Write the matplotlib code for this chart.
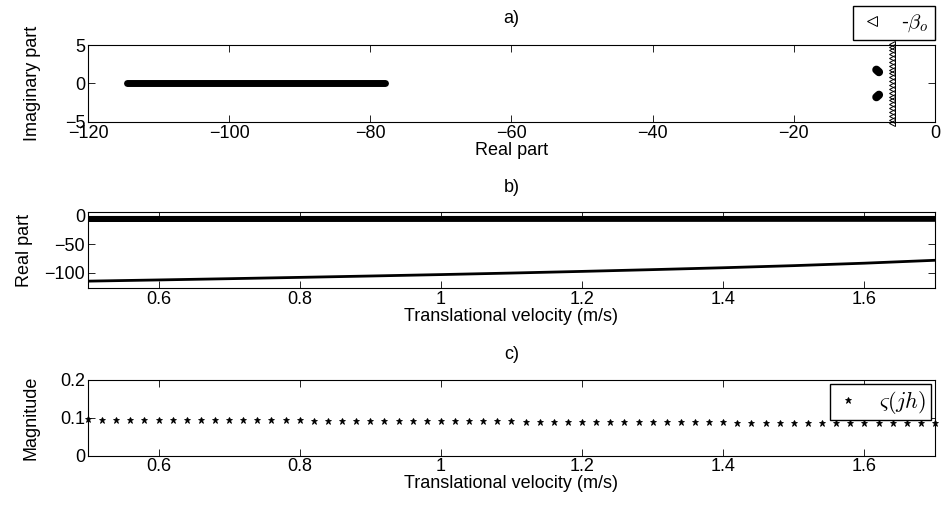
import matplotlib
matplotlib.use('Agg')
import matplotlib.pyplot as plt
import numpy as np

plt.rcParams['font.family'] = ['Liberation Sans', 'DejaVu Sans']
plt.rcParams['font.size'] = 13
plt.rcParams['mathtext.fontset'] = 'cm'

# velocity grid (m/s) for the root loci
vel = [0.5, 0.6, 0.7, 0.8, 0.9, 1.0, 1.1, 1.2, 1.3, 1.4, 1.5, 1.6, 1.7]
real_pole = [-114.5, -112.4, -110.2, -107.9, -105.5, -103.0, -100.3,
             -97.4, -94.3, -91.0, -87.3, -83.0, -77.9]
cplx_re = [-8.3, -8.27, -8.24, -8.21, -8.18, -8.15, -8.12, -8.09, -8.06,
           -8.03, -8.0, -7.97, -7.94]
cplx_im = [1.78, 1.76, 1.73, 1.71, 1.68, 1.66, 1.63, 1.61, 1.58, 1.56,
           1.53, 1.51, 1.48]
beta_o = [-6.1] * 13
other_re = [-0.3] * 13
beta_im = [-5.2, -4.7, -4.2, -3.7, -3.2, -2.7, -2.2, -1.7, -1.2, -0.7,
           -0.2, 0.3, 0.8, 1.3, 1.8, 2.3, 2.8, 3.3, 3.8, 4.3, 4.8, 5.2]

# magnitude of varsigma(jh), sampled every 0.02 m/s
vel_c = np.round(np.arange(50, 171, 2) / 100.0, 2)
mag = [0.0955, 0.0953, 0.0952, 0.0950, 0.0948, 0.0946, 0.0945, 0.0943,
       0.0941, 0.0939, 0.0938, 0.0936, 0.0934, 0.0932, 0.0931, 0.0929,
       0.0927, 0.0925, 0.0924, 0.0922, 0.0920, 0.0918, 0.0917, 0.0915,
       0.0913, 0.0911, 0.0910, 0.0908, 0.0906, 0.0904, 0.0903, 0.0901,
       0.0899, 0.0897, 0.0896, 0.0894, 0.0892, 0.0890, 0.0889, 0.0887,
       0.0885, 0.0883, 0.0882, 0.0880, 0.0878, 0.0876, 0.0875, 0.0873,
       0.0871, 0.0869, 0.0868, 0.0866, 0.0864, 0.0862, 0.0861, 0.0859,
       0.0857, 0.0855, 0.0854, 0.0852, 0.0850]

fig = plt.figure(figsize=(9.41, 5.12), dpi=100)
ax1 = fig.add_axes([0.0935, 0.762, 0.9001, 0.150])
ax2 = fig.add_axes([0.0935, 0.437, 0.9001, 0.148])
ax3 = fig.add_axes([0.0935, 0.110, 0.9001, 0.148])

# a) pole map
ax1.plot(real_pole, [0] * len(real_pole), '-', color='k', lw=5,
         solid_capstyle='round')
ax1.plot(cplx_re, cplx_im, '-', color='k', lw=6, solid_capstyle='round')
ax1.plot(cplx_re, [-v for v in cplx_im], '-', color='k', lw=6,
         solid_capstyle='round')
ax1.plot([beta_o[0]] * len(beta_im), beta_im, '<', color='k', mfc='none',
         ms=5, mew=0.7, clip_on=False, label=r'-$\beta_o$')
ax1.set_xlim(-120, 0)
ax1.set_ylim(-5, 5)
ax1.set_xticks([-120, -100, -80, -60, -40, -20, 0])
ax1.set_yticks([-5, 0, 5])
ax1.set_xlabel('Real part', labelpad=0)
ax1.set_ylabel('Imaginary part', labelpad=17)
ax1.set_title('a)', pad=16, fontsize=13)
ax1.legend(loc='lower right', bbox_to_anchor=(1.0, 1.06), fancybox=False,
           edgecolor='k', framealpha=1, handlelength=1.2, fontsize=15,
           borderpad=0.3, borderaxespad=0, markerscale=1.3)

# b) real part vs velocity
ax2.plot(vel, real_pole, '-', color='k', lw=2)
ax2.plot(vel, cplx_re, '-', color='k', lw=2)
ax2.plot(vel, beta_o, '-', color='k', lw=2)
ax2.plot(vel, [-4.2] * 13, '-', color='k', lw=1.5)
ax2.plot(vel, other_re, '-', color='k', lw=0.8)
ax2.set_xlim(0.5, 1.7)
ax2.set_ylim(-127, 6)
ax2.set_xticks([0.6, 0.8, 1.0, 1.2, 1.4, 1.6])
ax2.set_xticklabels(['0.6', '0.8', '1', '1.2', '1.4', '1.6'])
ax2.set_yticks([-100, -50, 0])
ax2.set_xlabel('Translational velocity (m/s)', labelpad=0)
ax2.set_ylabel('Real part', labelpad=8)
ax2.set_title('b)', pad=15, fontsize=13)

# c) magnitude
ax3.plot(vel_c, mag, '*', color='k', ms=5, mew=0.6, clip_on=False,
         label=r'$\varsigma(jh)$')
ax3.set_xlim(0.5, 1.7)
ax3.set_ylim(0, 0.2)
ax3.set_xticks([0.6, 0.8, 1.0, 1.2, 1.4, 1.6])
ax3.set_xticklabels(['0.6', '0.8', '1', '1.2', '1.4', '1.6'])
ax3.set_yticks([0, 0.1, 0.2])
ax3.set_yticklabels(['0', '0.1', '0.2'])
ax3.set_xlabel('Translational velocity (m/s)', labelpad=0)
ax3.set_ylabel('Magnitude', labelpad=15)
ax3.set_title('c)', pad=15, fontsize=13)
ax3.legend(loc='upper right', fancybox=False, edgecolor='k', framealpha=1,
           handlelength=1.2, fontsize=16, borderpad=0.2,
           borderaxespad=0.2)

for ax in (ax1, ax2, ax3):
    ax.tick_params(direction='in', top=True, right=True, length=5,
                   labelsize=13, width=0.6, pad=2)
    for s in ax.spines.values():
        s.set_linewidth(0.8)

fig.savefig('out.png', dpi=100)
